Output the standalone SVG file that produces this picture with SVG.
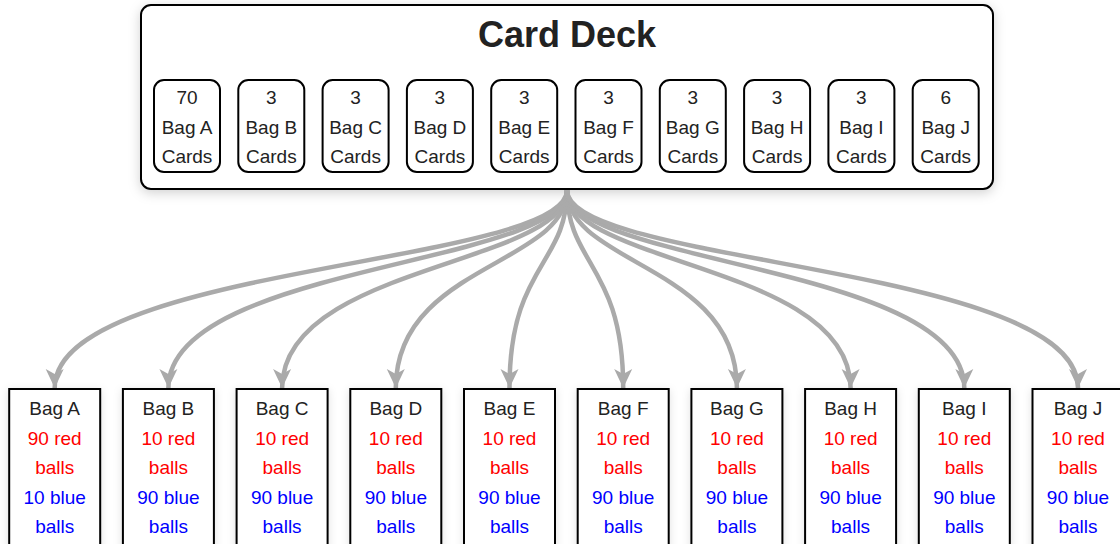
<svg xmlns="http://www.w3.org/2000/svg" width="1120" height="544" viewBox="0 0 1120 544">
<style>
text{font-family:"Liberation Sans",Arial,sans-serif;font-size:19px;text-anchor:middle;fill:#222}
.title{font-size:36px;font-weight:bold}
.red{fill:#ff0000}
.blue{fill:#0000ff}
.box{fill:#fff;stroke:#000;stroke-width:2}
.card{fill:#fff;stroke:#000;stroke-width:2}
.link{fill:none;stroke:#aaa;stroke-width:4.5}
</style>
<defs>
<filter id="sh" x="-10%" y="-20%" width="120%" height="150%">
<feDropShadow dx="0" dy="3" stdDeviation="6" flood-color="#000" flood-opacity="0.18"/>
</filter>
<filter id="sh2" x="-20%" y="-20%" width="140%" height="140%">
<feDropShadow dx="0" dy="2" stdDeviation="4" flood-color="#000" flood-opacity="0.12"/>
</filter>
<marker id="ah" markerUnits="userSpaceOnUse" markerWidth="20" markerHeight="20" refX="19" refY="10" orient="auto" viewBox="0 0 20 20">
<path d="M0,1 L19,10 L0,19 L5,10 z" fill="#aaa"/>
</marker>
</defs>

<g id="deck">
<rect class="box" x="141" y="5" width="852" height="184" rx="10" filter="url(#sh)"/>
<text class="title" x="567" y="47">Card Deck</text>
</g>

<g id="card-a"><rect class="card" x="154" y="80" width="66" height="92" rx="10"/><text x="187" y="104">70</text><text x="187" y="133.5">Bag A</text><text x="187" y="163">Cards</text></g>
<g id="card-b"><rect class="card" x="238.3" y="80" width="66" height="92" rx="10"/><text x="271.3" y="104">3</text><text x="271.3" y="133.5">Bag B</text><text x="271.3" y="163">Cards</text></g>
<g id="card-c"><rect class="card" x="322.6" y="80" width="66" height="92" rx="10"/><text x="355.6" y="104">3</text><text x="355.6" y="133.5">Bag C</text><text x="355.6" y="163">Cards</text></g>
<g id="card-d"><rect class="card" x="406.9" y="80" width="66" height="92" rx="10"/><text x="439.9" y="104">3</text><text x="439.9" y="133.5">Bag D</text><text x="439.9" y="163">Cards</text></g>
<g id="card-e"><rect class="card" x="491.2" y="80" width="66" height="92" rx="10"/><text x="524.2" y="104">3</text><text x="524.2" y="133.5">Bag E</text><text x="524.2" y="163">Cards</text></g>
<g id="card-f"><rect class="card" x="575.5" y="80" width="66" height="92" rx="10"/><text x="608.5" y="104">3</text><text x="608.5" y="133.5">Bag F</text><text x="608.5" y="163">Cards</text></g>
<g id="card-g"><rect class="card" x="659.8" y="80" width="66" height="92" rx="10"/><text x="692.8" y="104">3</text><text x="692.8" y="133.5">Bag G</text><text x="692.8" y="163">Cards</text></g>
<g id="card-h"><rect class="card" x="744.1" y="80" width="66" height="92" rx="10"/><text x="777.1" y="104">3</text><text x="777.1" y="133.5">Bag H</text><text x="777.1" y="163">Cards</text></g>
<g id="card-i"><rect class="card" x="828.4" y="80" width="66" height="92" rx="10"/><text x="861.4" y="104">3</text><text x="861.4" y="133.5">Bag I</text><text x="861.4" y="163">Cards</text></g>
<g id="card-j"><rect class="card" x="912.7" y="80" width="66" height="92" rx="10"/><text x="945.7" y="104">6</text><text x="945.7" y="133.5">Bag J</text><text x="945.7" y="163">Cards</text></g>

<g id="connectors">
<path class="link" marker-end="url(#ah)" d="M567,190 C567,265 54.7,265 54.7,388"/>
<path class="link" marker-end="url(#ah)" d="M567,190 C567,265 168.4,265 168.4,388"/>
<path class="link" marker-end="url(#ah)" d="M567,190 C567,265 282.1,265 282.1,388"/>
<path class="link" marker-end="url(#ah)" d="M567,190 C567,265 395.8,265 395.8,388"/>
<path class="link" marker-end="url(#ah)" d="M567,190 C567,265 509.5,265 509.5,388"/>
<path class="link" marker-end="url(#ah)" d="M567,190 C567,265 623.2,265 623.2,388"/>
<path class="link" marker-end="url(#ah)" d="M567,190 C567,265 736.9,265 736.9,388"/>
<path class="link" marker-end="url(#ah)" d="M567,190 C567,265 850.6,265 850.6,388"/>
<path class="link" marker-end="url(#ah)" d="M567,190 C567,265 964.3,265 964.3,388"/>
<path class="link" marker-end="url(#ah)" d="M567,190 C567,265 1078,265 1078,388"/>
</g>

<g id="bag-a"><rect class="box" x="9.2" y="389" width="91" height="170" filter="url(#sh2)"/><text x="54.7" y="415">Bag A</text><text class="red" x="54.7" y="444.5">90 red</text><text class="red" x="54.7" y="474">balls</text><text class="blue" x="54.7" y="503.5">10 blue</text><text class="blue" x="54.7" y="533">balls</text></g>
<g id="bag-b"><rect class="box" x="122.9" y="389" width="91" height="170" filter="url(#sh2)"/><text x="168.4" y="415">Bag B</text><text class="red" x="168.4" y="444.5">10 red</text><text class="red" x="168.4" y="474">balls</text><text class="blue" x="168.4" y="503.5">90 blue</text><text class="blue" x="168.4" y="533">balls</text></g>
<g id="bag-c"><rect class="box" x="236.6" y="389" width="91" height="170" filter="url(#sh2)"/><text x="282.1" y="415">Bag C</text><text class="red" x="282.1" y="444.5">10 red</text><text class="red" x="282.1" y="474">balls</text><text class="blue" x="282.1" y="503.5">90 blue</text><text class="blue" x="282.1" y="533">balls</text></g>
<g id="bag-d"><rect class="box" x="350.3" y="389" width="91" height="170" filter="url(#sh2)"/><text x="395.8" y="415">Bag D</text><text class="red" x="395.8" y="444.5">10 red</text><text class="red" x="395.8" y="474">balls</text><text class="blue" x="395.8" y="503.5">90 blue</text><text class="blue" x="395.8" y="533">balls</text></g>
<g id="bag-e"><rect class="box" x="464" y="389" width="91" height="170" filter="url(#sh2)"/><text x="509.5" y="415">Bag E</text><text class="red" x="509.5" y="444.5">10 red</text><text class="red" x="509.5" y="474">balls</text><text class="blue" x="509.5" y="503.5">90 blue</text><text class="blue" x="509.5" y="533">balls</text></g>
<g id="bag-f"><rect class="box" x="577.7" y="389" width="91" height="170" filter="url(#sh2)"/><text x="623.2" y="415">Bag F</text><text class="red" x="623.2" y="444.5">10 red</text><text class="red" x="623.2" y="474">balls</text><text class="blue" x="623.2" y="503.5">90 blue</text><text class="blue" x="623.2" y="533">balls</text></g>
<g id="bag-g"><rect class="box" x="691.4" y="389" width="91" height="170" filter="url(#sh2)"/><text x="736.9" y="415">Bag G</text><text class="red" x="736.9" y="444.5">10 red</text><text class="red" x="736.9" y="474">balls</text><text class="blue" x="736.9" y="503.5">90 blue</text><text class="blue" x="736.9" y="533">balls</text></g>
<g id="bag-h"><rect class="box" x="805.1" y="389" width="91" height="170" filter="url(#sh2)"/><text x="850.6" y="415">Bag H</text><text class="red" x="850.6" y="444.5">10 red</text><text class="red" x="850.6" y="474">balls</text><text class="blue" x="850.6" y="503.5">90 blue</text><text class="blue" x="850.6" y="533">balls</text></g>
<g id="bag-i"><rect class="box" x="918.8" y="389" width="91" height="170" filter="url(#sh2)"/><text x="964.3" y="415">Bag I</text><text class="red" x="964.3" y="444.5">10 red</text><text class="red" x="964.3" y="474">balls</text><text class="blue" x="964.3" y="503.5">90 blue</text><text class="blue" x="964.3" y="533">balls</text></g>
<g id="bag-j"><rect class="box" x="1032.5" y="389" width="91" height="170" filter="url(#sh2)"/><text x="1078" y="415">Bag J</text><text class="red" x="1078" y="444.5">10 red</text><text class="red" x="1078" y="474">balls</text><text class="blue" x="1078" y="503.5">90 blue</text><text class="blue" x="1078" y="533">balls</text></g>
</svg>
